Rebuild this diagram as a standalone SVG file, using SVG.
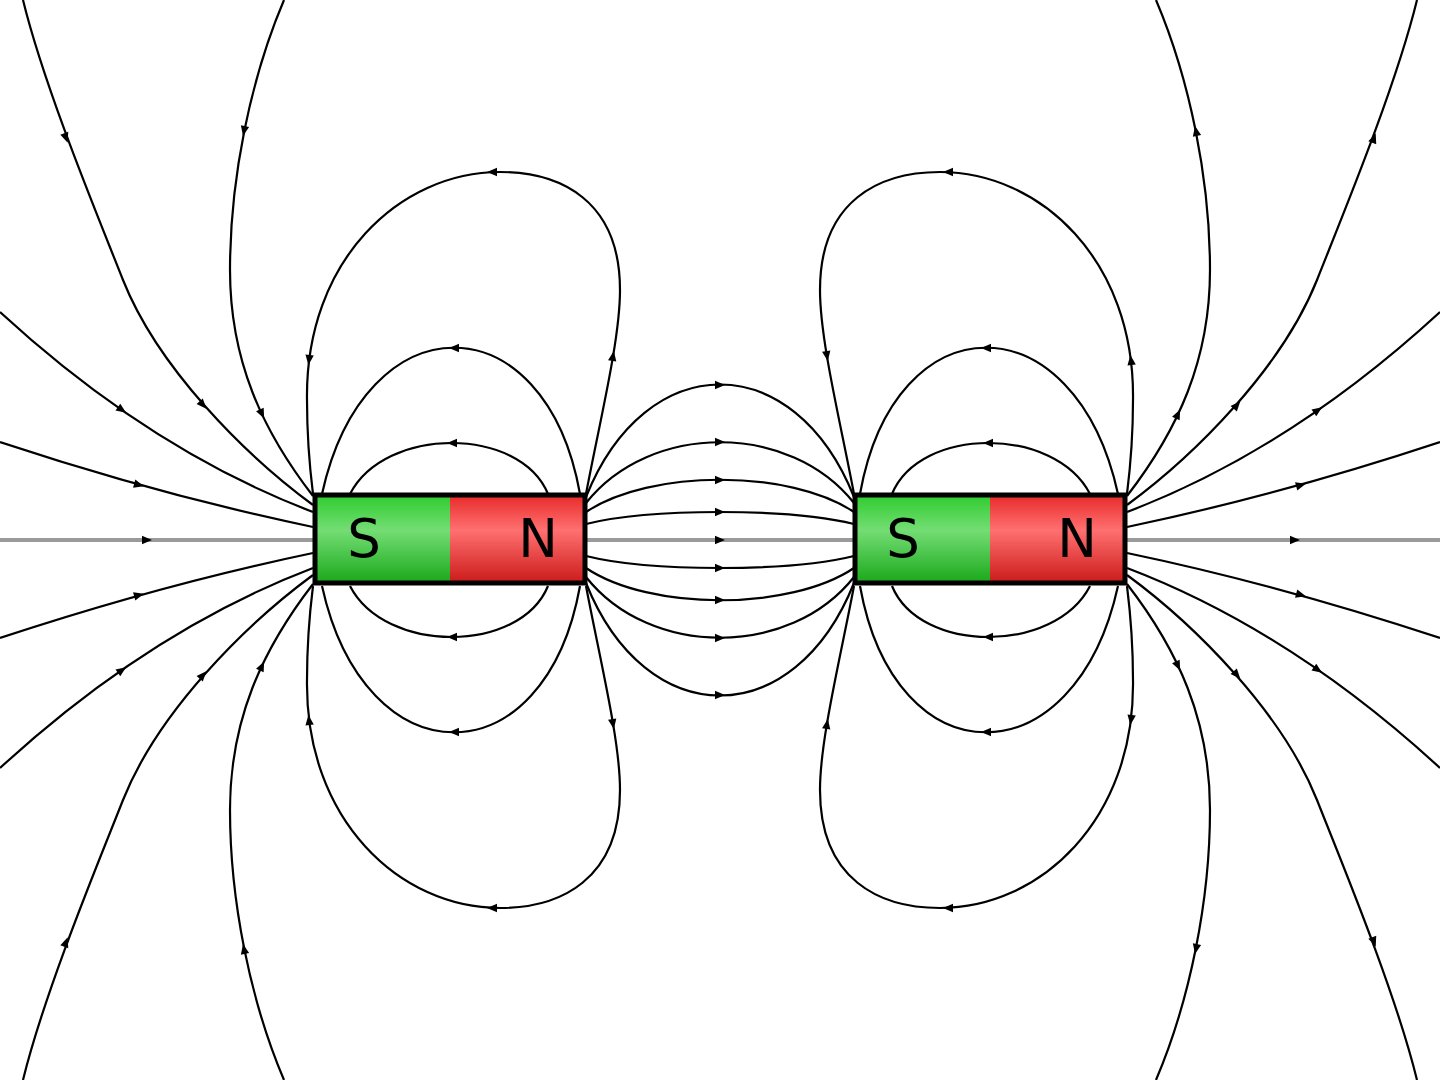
<svg xmlns="http://www.w3.org/2000/svg" width="1440" height="1080" viewBox="0 0 1440 1080">
<style>
.fl{fill:none;stroke:#000;stroke-width:2.2}
.gl{fill:none;stroke:#9a9a9a;stroke-width:4}
.ah{fill:#000}
.lbl{font-family:"DejaVu Sans","Liberation Sans",sans-serif;font-size:53px;fill:#000;text-anchor:middle}
.mb{fill:none;stroke:#000;stroke-width:5}
</style>
<defs>
<linearGradient id="gG" x1="0" y1="0" x2="0" y2="1">
<stop offset="0" stop-color="#2ecc2e"/><stop offset="0.4" stop-color="#74dd74"/><stop offset="1" stop-color="#1aa81a"/>
</linearGradient>
<linearGradient id="gR" x1="0" y1="0" x2="0" y2="1">
<stop offset="0" stop-color="#e82a2a"/><stop offset="0.4" stop-color="#ff7070"/><stop offset="1" stop-color="#cc1a1a"/>
</linearGradient>
<path id="ah" class="ah" d="M5,0 L-5,-4.2 L-5,4.2 Z"/>
<g id="qL">
<path class="fl" d="M23,0 C45,90 101,224 123,280 C158,368 245,455 313,505"/>
<path class="fl" d="M0,312 Q150,450 313,512"/>
<path class="fl" d="M0,442 Q160,495 313,527"/>
<path class="fl" d="M284,0 C250,80 230,180 230,270 C230,360 262,430 313,496"/>
<path class="fl" d="M586,494 C600,420 620,340 620,290 C620,200 560,172 500,172 C400,172 305,260 307,400 C307,440 310,470 313,494"/>
<path class="fl" d="M580,494 C545,299 365,299 322,494"/>
<path class="fl" d="M548,494 C520,426 385,426 350,494"/>
</g>
<g id="aF">
<use href="#ah" transform="translate(66,138) rotate(70)"/>
<use href="#ah" transform="translate(203,405) rotate(48.4)"/>
<use href="#ah" transform="translate(122,410) rotate(34.8)"/>
<use href="#ah" transform="translate(139,485) rotate(15.6)"/>
<use href="#ah" transform="translate(244,131) rotate(101.3)"/>
<use href="#ah" transform="translate(262,414) rotate(64.8)"/>
<use href="#ah" transform="translate(613,356) rotate(-80.5)"/>
<use href="#ah" transform="translate(492,172) rotate(180)"/>
<use href="#ah" transform="translate(309,360) rotate(97.3)"/>
<use href="#ah" transform="translate(454,348) rotate(180)"/>
<use href="#ah" transform="translate(452,443) rotate(180)"/>
</g>
<g id="aR">
<use href="#ah" transform="translate(66,138) rotate(250)"/>
<use href="#ah" transform="translate(203,405) rotate(228.4)"/>
<use href="#ah" transform="translate(122,410) rotate(214.8)"/>
<use href="#ah" transform="translate(139,485) rotate(195.6)"/>
<use href="#ah" transform="translate(244,131) rotate(281.3)"/>
<use href="#ah" transform="translate(262,414) rotate(244.8)"/>
<use href="#ah" transform="translate(613,356) rotate(99.5)"/>
<use href="#ah" transform="translate(492,172) rotate(0)"/>
<use href="#ah" transform="translate(309,360) rotate(277.3)"/>
<use href="#ah" transform="translate(454,348) rotate(0)"/>
<use href="#ah" transform="translate(452,443) rotate(0)"/>
</g>
<g id="cT">
<path class="fl" d="M586,497 C646,347 794,347 854,497"/>
<path class="fl" d="M586,503 C650,422 790,422 854,503"/>
<path class="fl" d="M586,512 C650,469 790,469 854,512"/>
<path class="fl" d="M586,524 C650,508 790,508 854,524"/>
<use href="#ah" transform="translate(720,385)"/>
<use href="#ah" transform="translate(720,442)"/>
<use href="#ah" transform="translate(720,480)"/>
<use href="#ah" transform="translate(720,512)"/>
</g>
</defs>
<rect width="1440" height="1080" fill="#fff"/>
<g id="connectors">
<path class="gl" d="M0,540 H313"/>
<path class="gl" d="M586,540 H854"/>
<path class="gl" d="M1126,540 H1440"/>
<use href="#ah" transform="translate(147,540)"/>
<use href="#ah" transform="translate(720,540)"/>
<use href="#ah" transform="translate(1295,540)"/>
<use href="#qL"/>
<use href="#aF"/>
<use href="#qL" transform="matrix(1 0 0 -1 0 1080)"/>
<use href="#aF" transform="matrix(1 0 0 -1 0 1080)"/>
<use href="#qL" transform="matrix(-1 0 0 1 1440 0)"/>
<use href="#aR" transform="matrix(-1 0 0 1 1440 0)"/>
<use href="#qL" transform="matrix(-1 0 0 -1 1440 1080)"/>
<use href="#aR" transform="matrix(-1 0 0 -1 1440 1080)"/>
<use href="#cT"/>
<use href="#cT" transform="matrix(1 0 0 -1 0 1080)"/>
</g>
<g id="magnet1">
<rect x="315" y="495" width="135" height="88" fill="url(#gG)"/>
<rect x="450" y="495" width="135" height="88" fill="url(#gR)"/>
<rect class="mb" x="315" y="495" width="270" height="88"/>
<text class="lbl" x="364" y="557">S</text>
<text class="lbl" x="538" y="557">N</text>
</g>
<g id="magnet2">
<rect x="855" y="495" width="135" height="88" fill="url(#gG)"/>
<rect x="990" y="495" width="135" height="88" fill="url(#gR)"/>
<rect class="mb" x="855" y="495" width="270" height="88"/>
<text class="lbl" x="903" y="557">S</text>
<text class="lbl" x="1077" y="557">N</text>
</g>
</svg>
